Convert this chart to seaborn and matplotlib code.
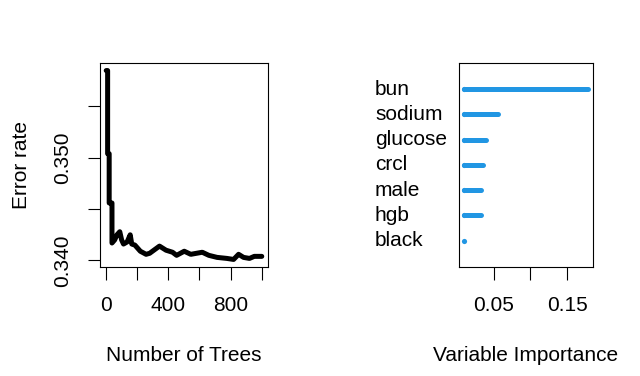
import matplotlib
matplotlib.use("Agg")
import matplotlib.pyplot as plt
import seaborn as sns
import pandas as pd
import numpy as np

# error rate vs number of trees
trees = [1, 10, 10, 20, 20, 38, 38, 55, 70, 88, 100, 112, 135, 155, 165, 185,
         220, 257, 280, 343, 385, 427, 453, 502, 544, 618, 660, 713, 776, 819,
         851, 883, 921, 952, 1000]
error = [0.3585, 0.3585, 0.3504, 0.3504, 0.3456, 0.3456, 0.3417, 0.3420, 0.3425,
         0.3428, 0.3420, 0.3416, 0.3418, 0.3425, 0.3416, 0.3415, 0.3409, 0.3406,
         0.3407, 0.3414, 0.3410, 0.3408, 0.3405, 0.3409, 0.3406, 0.3408, 0.3405,
         0.3403, 0.3402, 0.3401, 0.3406, 0.3403, 0.3402, 0.3404, 0.3404]

# variable importance
variables = ["bun", "sodium", "glucose", "crcl", "male", "hgb", "black"]
importance = [0.178, 0.0555, 0.039, 0.036, 0.033, 0.033, 0.0098]

sns.set_style("white")
plt.rcParams["font.family"] = ["Liberation Sans", "DejaVu Sans"]
plt.rcParams["font.size"] = 15
plt.rcParams["text.color"] = "black"
plt.rcParams["axes.labelcolor"] = "black"
plt.rcParams["xtick.color"] = "black"
plt.rcParams["ytick.color"] = "black"

fig = plt.figure(figsize=(6.4, 3.76), dpi=100)
ax1 = fig.add_axes([100 / 640, 1 - 267 / 376, 168 / 640, 204 / 376])
ax2 = fig.add_axes([459 / 640, 1 - 267 / 376, 134 / 640, 204 / 376])

# --- left: error rate
df_err = pd.DataFrame({"trees": trees, "error": error})
sns.lineplot(data=df_err, x="trees", y="error", estimator=None, sort=False,
             color="black", linewidth=3.6, ax=ax1,
             solid_joinstyle="round", solid_capstyle="round")
pad = 0.04 * (max(trees) - min(trees))
ax1.set_xlim(min(trees) - pad, max(trees) + pad)
pad = 0.04 * (max(error) - min(error))
ax1.set_ylim(min(error) - pad, max(error) + pad)
ax1.set_xticks([0, 200, 400, 600, 800, 1000])
ax1.set_xticklabels(["0", "", "400", "", "800", ""])
ax1.set_yticks([0.340, 0.345, 0.350, 0.355])
ax1.set_yticklabels(["0.340", "", "0.350", ""], rotation=90, va="center")
ax1.set_xlabel("Number of Trees", labelpad=22)
ax1.set_ylabel("Error rate", labelpad=16)

# --- right: variable importance
ypos = np.arange(len(variables), 0, -1)
xmin = min(importance)
ax2.hlines(ypos, xmin, importance, color="#2196e3", linewidth=3.6,
           capstyle="round")
ax2.scatter([xmin] * len(ypos), ypos, s=14, color="#2196e3", linewidths=0,
            zorder=3)
pad = 0.04 * (max(importance) - min(importance))
ax2.set_xlim(min(importance) - pad, max(importance) + pad)
ax2.set_ylim(-0.04, len(variables) + 1.03)
ax2.set_xticks([0.05, 0.10, 0.15])
ax2.set_xticklabels(["0.05", "", "0.15"])
ax2.set_yticks([])
ax2.set_xlabel("Variable Importance", labelpad=22)

# variable names, left aligned in pixel space
for y, name in zip(ypos, variables):
    ax2.annotate(name, xy=(0, y), xycoords=("figure pixels", "data"),
                 xytext=(375, 0), textcoords=("figure pixels", "offset points"),
                 ha="left", va="center", fontsize=15)

for ax in (ax1, ax2):
    for s in ax.spines.values():
        s.set_color("black")
        s.set_linewidth(0.8)
    ax.tick_params(axis="both", direction="out", length=9, width=0.8,
                   color="black", labelsize=15)
    ax.tick_params(axis="x", bottom=True, pad=12)
    ax.tick_params(axis="y", left=True, pad=11)
ax2.tick_params(axis="y", left=False)

fig.savefig("out.png", dpi=100)
